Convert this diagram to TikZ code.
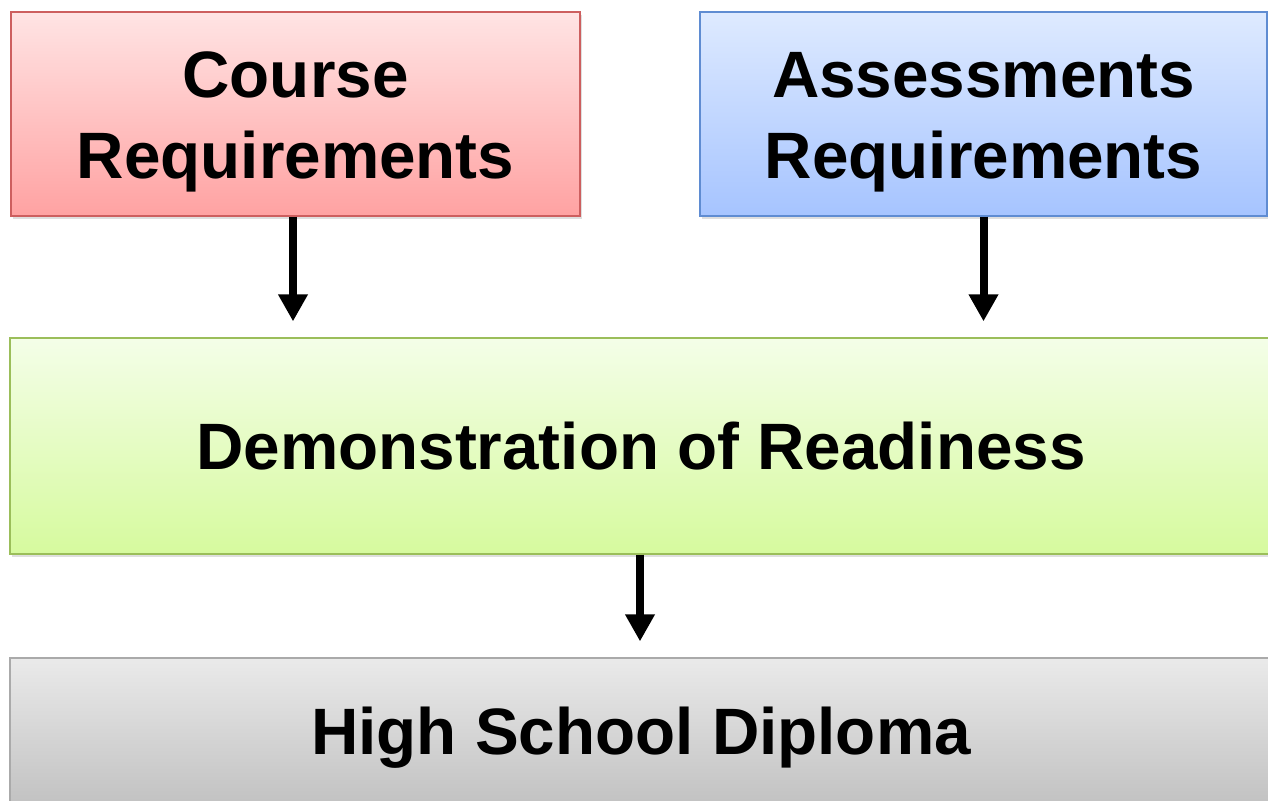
\documentclass[tikz,border=0pt]{standalone}
\usepackage{fontspec}
\setmainfont{Liberation Sans}
\usetikzlibrary{arrows.meta,shadows}

\definecolor{redtop}{RGB}{255,228,228}
\definecolor{redbot}{RGB}{255,162,162}
\definecolor{redline}{RGB}{205,95,95}
\definecolor{bluetop}{RGB}{222,234,255}
\definecolor{bluebot}{RGB}{166,196,255}
\definecolor{blueline}{RGB}{95,140,210}
\definecolor{greentop}{RGB}{244,254,232}
\definecolor{greenbot}{RGB}{214,250,158}
\definecolor{greenline}{RGB}{155,190,90}
\definecolor{greytop}{RGB}{234,234,234}
\definecolor{greybot}{RGB}{190,190,190}
\definecolor{greyline}{RGB}{170,170,170}

% extra room above the first line of a two-line box
\newcommand{\padtop}{\rule{0pt}{62pt}}

\tikzset{
  block/.style={draw, line width=1.2pt, align=center, inner sep=0pt,
    font=\bfseries\fontsize{65.6}{81}\selectfont,
    drop shadow={shadow xshift=2pt, shadow yshift=-3pt, opacity=0.25}},
  flow/.style={line width=8pt, -{Triangle[length=27pt,width=28pt]}, shorten >=16pt}
}

\begin{document}
\begin{tikzpicture}[x=1pt,y=-1pt]
			\useasboundingbox (0,0) rectangle (1268,800);
			\clip (0,0) rectangle (1268,800);

			% Requirements
			\node[block, draw=redline, top color=redtop, bottom color=redbot,
				minimum width=569pt, minimum height=204pt] (course) at (295.5,114) {\padtop Course\\Requirements};
			\node[block, draw=blueline, top color=bluetop, bottom color=bluebot,
				minimum width=567pt, minimum height=204pt] (assess) at (983.5,114) {\padtop Assessments\\Requirements};

			% Readiness
			\node[block, draw=greenline, top color=greentop, bottom color=greenbot,
				minimum width=1262pt, minimum height=216pt] (ready) at (641,446) {Demonstration of Readiness};

			% Diploma
			\node[block, draw=greyline, top color=greytop, bottom color=greybot,
				minimum width=1262pt, minimum height=160pt] (diploma) at (641,738) {High School Diploma};

			% Arrows
			\draw[flow] ([xshift=-2.5pt]course.south) -- ([xshift=-2.5pt]course.south |- ready.north);
			\draw[flow] (assess.south) -- (assess.south |- ready.north);
			\draw[flow] ([xshift=-1pt]ready.south) -- ([xshift=-1pt]ready.south |- diploma.north);
		\end{tikzpicture}
\end{document}
